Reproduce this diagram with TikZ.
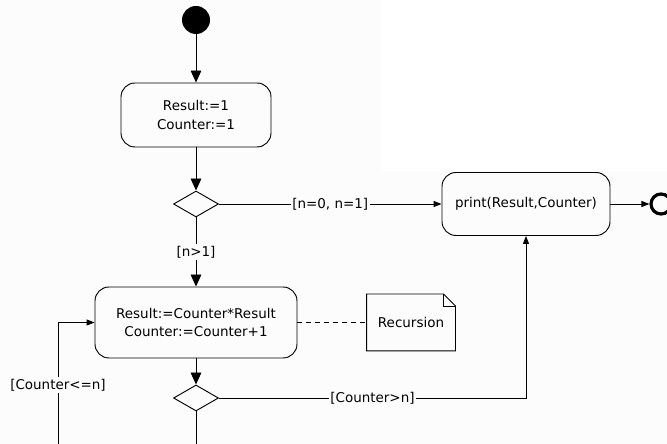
\documentclass[tikz,border=0pt]{standalone}
\usepackage{fontspec}
\setmainfont{DejaVu Sans}
\usepackage{tikz}
\usetikzlibrary{calc, positioning, arrows.meta, shapes.geometric}
\definecolor{paper}{RGB}{252,252,252}

\begin{document}
\begin{tikzpicture}[
  font=\fontsize{11.5}{16}\selectfont,
  line width=0.8pt,
  act/.style={draw, rounded corners=0.42cm, align=center, inner sep=0pt},
  choice/.style={draw, diamond, minimum width=1.35cm, minimum height=0.78cm, inner sep=0pt},
  guard/.style={fill=paper, inner sep=1.5pt},
  flow/.style={-{Triangle[length=0.36cm,width=0.32cm]}},
  into/.style={-{Triangle[length=0.24cm,width=0.18cm]}}
]
\useasboundingbox (0,0) rectangle (20.01,13.32);
\clip (0,0) rectangle (20.01,13.32);
\fill[paper] (0,0) rectangle (20.01,13.32);
\fill[white] (11.43,8.19) rectangle (20.01,13.32);

% nodes
\node[circle, fill=black, inner sep=0pt, minimum size=0.84cm] (start) at (5.88,12.72) {};
\node[act, minimum width=4.5cm, minimum height=1.92cm] (init) at (5.88,9.87) {Result:=1\\Counter:=1};
\node[choice] (check) at (5.88,7.2) {};
\node[act, minimum width=6.06cm, minimum height=2.13cm] (loopbody) at (5.88,3.645) {Result:=Counter*Result\\Counter:=Counter+1};
\node[choice] (test) at (5.88,1.38) {};
\node[act, minimum width=5.04cm, minimum height=1.89cm] (print) at (15.78,7.2) {print(Result,Counter)};
\node[circle, draw, line width=2.7pt, minimum size=0.6cm, inner sep=0pt] (stop) at (19.83,7.2) {};
\node[minimum width=2.64cm, minimum height=1.68cm, inner sep=0pt] (note) at (12.33,3.645) {Recursion};
\coordinate (below) at (5.88,-0.5);
\coordinate (back) at (1.74,-0.5);

% note with folded corner
\draw (note.north west) -- ($(note.north east)+(-0.36,0)$) -- ($(note.north east)+(0,-0.36)$)
  -- (note.south east) -- (note.south west) -- cycle;
\draw ($(note.north east)+(-0.36,0)$) |- ($(note.north east)+(0,-0.36)$);

% connectors
\draw[flow] (start) -- (init);
\draw[flow] (init) -- (check);
\draw[flow] (check) -- node[guard] {[n>1]} (loopbody);
\draw[into] (check) -- node[guard] {[n=0, n=1]} (print);
\draw[into] (print) -- (stop);
\draw[flow] (loopbody) -- (test);
\draw[into] (test) -| node[guard, pos=0.25] {[Counter>n]} (print);
\draw[dash pattern=on 0.15cm off 0.12cm] (loopbody) -- (note);
\draw[into] (test) -- (below) -- (back) |- node[guard, pos=0.274] {[Counter<=n]} (loopbody);
\end{tikzpicture}
\end{document}
